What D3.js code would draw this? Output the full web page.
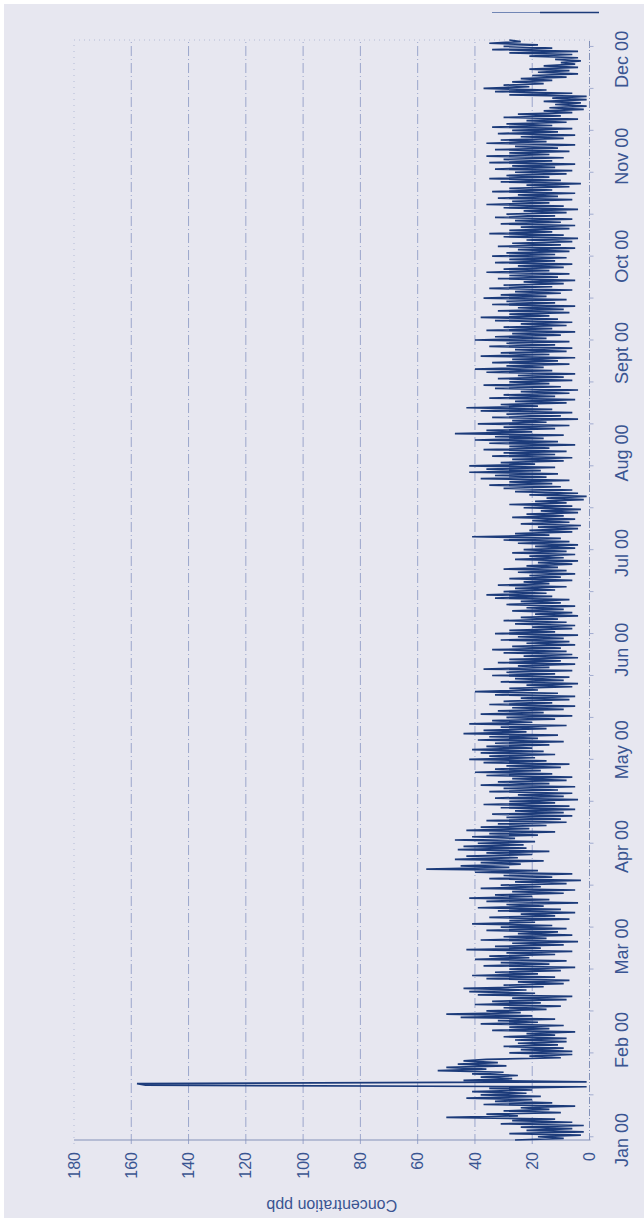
<!DOCTYPE html>
<html><head><meta charset="utf-8">
<script src="https://cdn.jsdelivr.net/npm/d3@7"></script>
<style>html,body{margin:0;padding:0;background:#fff;overflow:hidden}</style>
</head><body><svg id="c" width="644" height="1218"></svg>
<script>
const monthLabels = ["Jan 00","Feb 00","Mar 00","Apr 00","May 00","Jun 00","Jul 00","Aug 00","Sept 00","Oct 00","Nov 00","Dec 00"];
const yTickValues = [0,20,40,60,80,100,120,140,160,180];
const yTitle = "Concentration ppb";

// 12-hourly readings, starting 1 Jan 2000 00:00
const conc_jan = [26,9, 18,3, 28,2, 22,6, 24,2, 31,6, 27,12, 50,25, 36,10, 30,14,
  24,5, 37,13, 33,20, 43,17, 38,22, 41,20, 35,1, 155,158, 1,44, 27,38,
  25,41, 30,53, 36,50, 29,46, 32,44, 36,10, 21,6, 28,6, 24,9, 30,11, 25,8];
const conc_feb = [26,8, 30,12, 22,5, 34,14, 28,9, 38,18, 32,12, 45,20, 50,24, 36,15,
  30,10, 40,17, 34,8, 27,6, 39,19, 42,22, 44,16, 30,9, 25,7, 36,12,
  41,18, 33,10, 28,5, 37,14, 31,8, 40,21, 35,12, 29,6, 43,17];
const conc_mar = [33,9, 27,4, 38,15, 30,6, 25,11, 36,8, 31,13, 41,19, 28,7, 35,12,
  24,5, 32,10, 39,16, 29,4, 36,14, 42,20, 33,9, 27,5, 38,17, 31,8,
  26,3, 35,13, 30,6, 40,18, 57,28, 45,24, 38,16, 47,25, 43,20, 36,14, 46,22];
const conc_apr = [44,23, 39,19, 47,26, 41,18, 35,12, 43,21, 38,15, 32,8, 36,10, 29,6,
  34,9, 26,5, 31,7, 37,12, 28,4, 33,9, 25,6, 35,11, 30,5, 38,14,
  32,8, 27,6, 36,13, 40,17, 33,10, 29,7, 37,15, 42,19, 35,12, 38,16];
const conc_may = [41,20, 36,14, 33,9, 39,18, 35,11, 44,22, 37,15, 31,8, 42,20, 34,12,
  29,6, 38,16, 32,9, 27,5, 35,13, 30,7, 24,5, 33,11, 40,18, 28,6,
  22,4, 31,9, 26,7, 34,12, 29,6, 37,14, 25,5, 32,10, 28,4, 23,6, 30,8];
const conc_jun = [34,10, 27,5, 22,7, 31,9, 25,4, 33,12, 28,6, 20,5, 26,8, 30,11,
  24,4, 19,6, 27,9, 22,5, 29,10, 24,7, 33,13, 36,15, 30,12, 26,8,
  32,14, 23,6, 28,10, 21,5, 25,8, 30,11, 22,6, 18,4, 26,9, 21,5];
const conc_jul = [27,8, 23,5, 19,4, 25,7, 30,10, 41,14, 26,6, 21,4, 18,3, 24,7,
  20,5, 27,9, 22,4, 17,3, 23,6, 28,8, 19,2, 15,1, 21,4, 26,6,
  30,10, 35,13, 28,7, 38,15, 33,11, 42,17, 36,12, 42,19, 31,9, 27,6, 34,12];
const conc_aug = [30,8, 37,14, 28,5, 35,11, 40,16, 33,9, 47,20, 36,12, 30,7, 39,15,
  27,4, 34,10, 29,6, 38,13, 43,18, 31,8, 26,5, 35,12, 30,7, 24,4,
  33,10, 37,14, 28,6, 32,9, 25,5, 36,13, 40,16, 29,7, 34,11, 27,5, 38,14];
const conc_sep = [31,8, 26,6, 35,12, 29,7, 40,15, 33,10, 27,5, 36,13, 30,8, 24,6,
  33,11, 38,14, 28,7, 32,9, 25,5, 34,12, 29,8, 37,15, 31,10, 26,6,
  35,13, 30,9, 23,5, 32,11, 28,7, 36,14, 30,9, 25,6, 33,12, 28,8];
const conc_oct = [34,12, 29,7, 25,5, 32,10, 27,6, 22,4, 30,9, 35,13, 28,7, 24,5,
  31,10, 26,6, 33,12, 29,8, 23,4, 30,9, 36,14, 27,6, 32,11, 25,5,
  34,13, 28,7, 22,3, 31,10, 35,14, 29,8, 26,6, 33,12, 27,5, 35,13, 30,9];
const conc_nov = [36,14, 28,7, 33,11, 26,5, 36,15, 31,9, 24,5, 32,11, 27,6, 34,13,
  29,8, 22,4, 30,10, 25,6, 16,2, 14,1, 12,3, 16,1, 13,1, 28,6,
  33,15, 37,21, 30,16, 27,13, 24,8, 20,4, 18,7, 21,4, 16,5, 10,3];
const conc_dec = [12,4, 21,6, 28,4, 34,13, 30,18, 35,24, 28];

const startDate = new Date(2000, 0, 1);
const endDate = new Date(2000, 11, 7);
const stepHours = 12;

const values = [].concat(conc_jan, conc_feb, conc_mar, conc_apr, conc_may, conc_jun,
  conc_jul, conc_aug, conc_sep, conc_oct, conc_nov, conc_dec);
const series = values.map((v, i) => ({ t: d3.timeHour.offset(startDate, i * stepHours), v }));

const svg = d3.select("#c");
svg.append("rect").attr("x", 4).attr("y", 4).attr("width", 640).attr("height", 1214).attr("fill", "#e7e7f0");

const W = 1100, H = 515.5;
const x = d3.scaleTime().domain([startDate, endDate]).range([0, W]);
const y = d3.scaleLinear().domain([0, 180]).range([H, 0]);

const g = svg.append("g").attr("transform", "translate(74,1140) rotate(-90)");

const gridColor = "#9ba6cb";
g.selectAll("line.grid").data(yTickValues.filter(t => t > 0 && t < 180)).enter().append("line")
  .attr("x1", -4).attr("x2", W).attr("y1", d => y(d)).attr("y2", d => y(d))
  .attr("stroke", gridColor).attr("stroke-width", 1).attr("stroke-dasharray", "10,3,1,3");
g.append("line").attr("x1", -4).attr("x2", W).attr("y1", y(180)).attr("y2", y(180))
  .attr("stroke", "#b3bbd6").attr("stroke-width", 1).attr("stroke-dasharray", "1,5");
g.append("line").attr("x1", W).attr("x2", W).attr("y1", y(180)).attr("y2", y(0))
  .attr("stroke", "#b3bbd6").attr("stroke-width", 1).attr("stroke-dasharray", "1,4");
g.append("line").attr("x1", 0).attr("x2", 0).attr("y1", y(180)).attr("y2", y(0) + 1)
  .attr("stroke", "#8391b8").attr("stroke-width", 1.1);
g.append("line").attr("x1", 0).attr("x2", W).attr("y1", y(0)).attr("y2", y(0))
  .attr("stroke", "#8391b8").attr("stroke-width", 1).attr("stroke-dasharray", "7,2,1,2");
const minorTicks = d3.range(1, 341, 13).map(d => d3.timeDay.offset(startDate, d));
g.selectAll("line.mt").data(minorTicks).enter().append("line")
  .attr("x1", d => x(d)).attr("x2", d => x(d)).attr("y1", y(0)).attr("y2", y(0) + 4)
  .attr("stroke", "#a3add0").attr("stroke-width", 1);

const line = d3.line().x(d => x(d.t)).y(d => y(d.v));
g.append("path").datum(series).attr("d", line)
  .attr("fill", "none").attr("stroke", "#1c3b7a").attr("stroke-width", 1.7);

const textColor = "#3a5592";
const monthDates = monthLabels.map((m, i) => new Date(2000, i, 1));
g.selectAll("text.m").data(monthLabels).enter().append("text")
  .attr("x", (d, i) => x(monthDates[i])).attr("y", H + 38.5)
  .attr("text-anchor", "middle").attr("font-family", "'Liberation Sans', Arial, sans-serif")
  .attr("font-size", 18).attr("fill", textColor).text(d => d);
g.selectAll("text.v").data(yTickValues).enter().append("text")
  .attr("x", -12).attr("y", d => y(d)).attr("dy", "0.35em")
  .attr("text-anchor", "end").attr("font-family", "'Liberation Sans', Arial, sans-serif")
  .attr("font-size", 16).attr("fill", textColor).text(d => d);
g.append("text").attr("transform", `translate(-59.5,${H / 2}) rotate(-90)`)
  .attr("text-anchor", "middle").attr("font-family", "'Liberation Sans', Arial, sans-serif")
  .attr("font-size", 16).attr("fill", textColor).text(yTitle);

const legend = svg.append("g");
legend.append("line").attr("x1", 492).attr("x2", 540).attr("y1", 12.5).attr("y2", 12.5)
  .attr("stroke", "#7186b5").attr("stroke-width", 1.2);
legend.append("line").attr("x1", 540).attr("x2", 599).attr("y1", 12.5).attr("y2", 12.5)
  .attr("stroke", "#1c3b7a").attr("stroke-width", 1.6);
</script></body></html>
